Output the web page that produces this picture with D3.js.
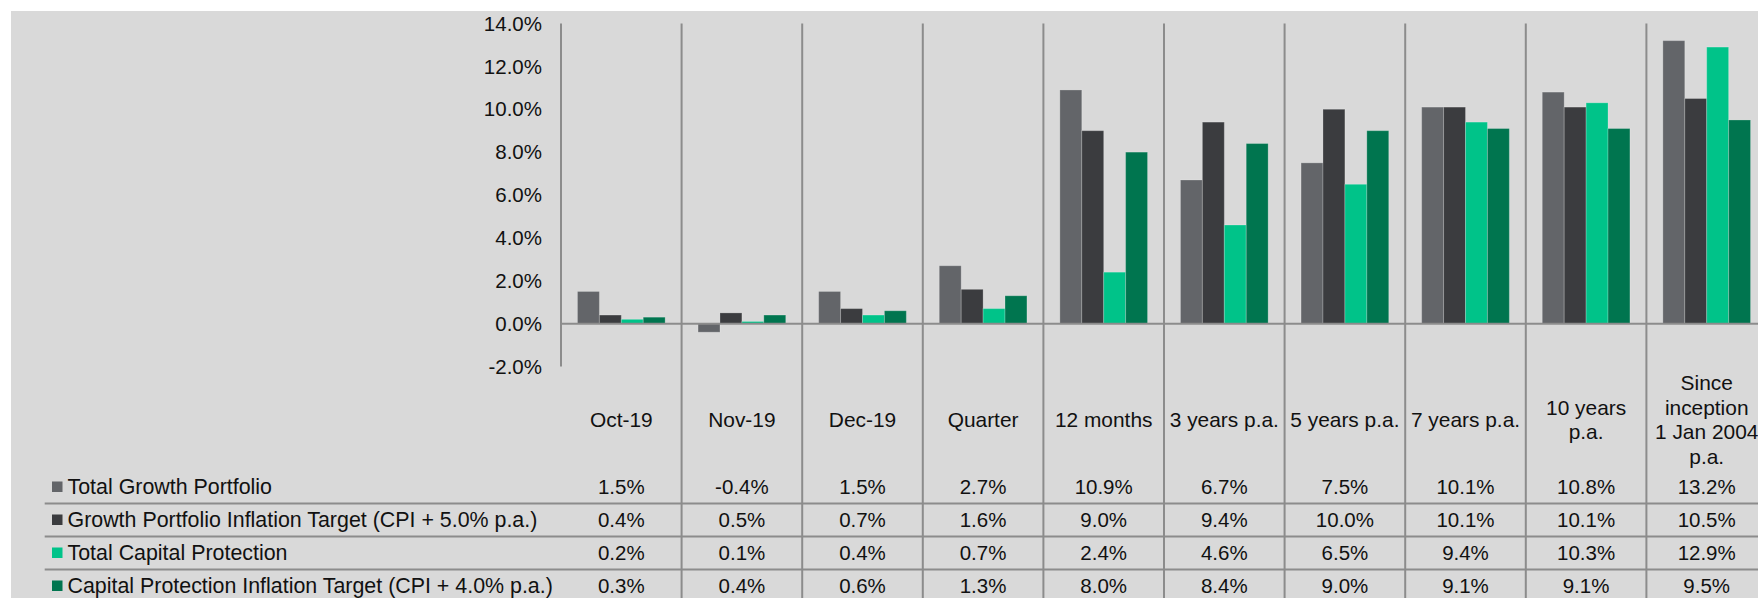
<!DOCTYPE html>
<html>
<head>
<meta charset="utf-8">
<script src="https://cdn.jsdelivr.net/npm/d3@7"></script>
<style>
html, body { margin: 0; padding: 0; background: #fff; overflow: hidden; }
svg { display: block; }
text { font-family: "Liberation Sans", Arial, sans-serif; fill: #111; }
</style>
</head>
<body>
<div id="chart"></div>
<script>
var width = 1758
var height = 598

var categories = [
	["Oct-19"], ["Nov-19"], ["Dec-19"], ["Quarter"], ["12 months"],
	["3 years p.a."], ["5 years p.a."], ["7 years p.a."],
	["10 years", "p.a."], ["Since", "inception", "1 Jan 2004", "p.a."]
]
var seriesNames = [
	"Total Growth Portfolio",
	"Growth Portfolio Inflation Target (CPI + 5.0% p.a.)",
	"Total Capital Protection",
	"Capital Protection Inflation Target (CPI + 4.0% p.a.)"
]
var totalGrowth = [1.5, -0.4, 1.5, 2.7, 10.9, 6.7, 7.5, 10.1, 10.8, 13.2]
var growthTarget = [0.4, 0.5, 0.7, 1.6, 9.0, 9.4, 10.0, 10.1, 10.1, 10.5]
var totalCapital = [0.2, 0.1, 0.4, 0.7, 2.4, 4.6, 6.5, 9.4, 10.3, 12.9]
var capitalTarget = [0.3, 0.4, 0.6, 1.3, 8.0, 8.4, 9.0, 9.1, 9.1, 9.5]
var yTicks = [-2, 0, 2, 4, 6, 8, 10, 12, 14]

var colors = ["#636569", "#3b3c3f", "#00c389", "#00754f"]
var lineColor = "#8c8c8c"

var series = [totalGrowth, growthTarget, totalCapital, capitalTarget]
var catKeys = categories.map(function(c){ return c.join(" ") })

var svg = d3.select("#chart").append("svg")
	.attr("width", width)
	.attr("height", height)

svg.append("rect")
	.attr("x", 11).attr("y", 11)
	.attr("width", width - 11).attr("height", height - 11)
	.attr("fill", "#d9d9d9")

var x0 = d3.scaleBand()
	.domain(catKeys)
	.range([561, 561 + 10 * 120.6])
	.paddingInner(0.273)
	.paddingOuter(0.1365)
var x1 = d3.scaleBand()
	.domain(d3.range(4))
	.range([0, x0.bandwidth()])
var y = d3.scaleLinear()
	.domain([-2, 14])
	.range([366.5, 23.5])

var step = x0.step()
// boundary between category i-1 and i
var edge = function(i){ return x0.range()[0] + i * step }

// pct with plain hyphen
var fmt = d3.formatLocale({decimal: ".", thousands: ",", grouping: [3], currency: ["", ""], minus: "-"}).format(".1f")
function pct(v){ return fmt(v) + "%" }

// y axis labels
svg.append("g").selectAll("text")
	.data(yTicks).enter()
	.append("text")
	  .attr("x", 542)
	  .attr("y", function(d){ return y(d) })
	  .attr("dy", "0.35em")
	  .attr("text-anchor", "end")
	  .style("font-size", "20.5px")
	  .text(pct)

// bars
var groups = svg.append("g").selectAll("g")
	.data(catKeys).enter()
	.append("g")
	  .attr("transform", function(d){ return "translate(" + x0(d) + ",0)" })
groups.selectAll("rect")
	.data(function(d, i){ return series.map(function(s, k){ return {k: k, v: s[i]} }) })
	.enter().append("rect")
	  .attr("x", function(d){ return x1(d.k) })
	  .attr("width", x1.bandwidth())
	  .attr("y", function(d){ return y(Math.max(0, d.v)) })
	  .attr("height", function(d){ return Math.abs(y(d.v) - y(0)) })
	  .attr("fill", function(d){ return colors[d.k] })
	  .attr("stroke", "rgba(255,255,255,0.22)")
	  .attr("stroke-width", 1)

// y axis line and zero line
svg.append("line")
	.attr("x1", 561).attr("x2", 561)
	.attr("y1", y(14)).attr("y2", y(-2))
	.attr("stroke", lineColor).attr("stroke-width", 2)
svg.append("line")
	.attr("x1", 561).attr("x2", width)
	.attr("y1", y(0)).attr("y2", y(0))
	.attr("stroke", lineColor).attr("stroke-width", 2)

// category separators, running down through the table
svg.append("g").selectAll("line")
	.data(d3.range(1, 11)).enter()
	.append("line")
	  .attr("x1", edge).attr("x2", edge)
	  .attr("y1", y(14)).attr("y2", height)
	  .attr("stroke", lineColor).attr("stroke-width", 2)

// category labels
var lh = 24.6
svg.append("g").selectAll("text")
	.data(categories).enter()
	.append("text")
	  .attr("x", function(d, i){ return x0(catKeys[i]) + x0.bandwidth() / 2 })
	  .attr("text-anchor", "middle")
	  .style("font-size", "20.9px")
	  .each(function(d){
		var t = d3.select(this)
		var top = 419.5 - (d.length - 1) * lh / 2
		d.forEach(function(line, j){
			t.append("tspan")
			  .attr("x", t.attr("x"))
			  .attr("y", top + j * lh)
			  .attr("dy", "0.35em")
			  .text(line)
		})
	  })

// table
var rowY = function(r){ return 487 + r * 33 }
svg.append("g").selectAll("line")
	.data([1, 2, 3]).enter()
	.append("line")
	  .attr("x1", 44.7).attr("x2", width)
	  .attr("y1", function(r){ return rowY(r) - 16.5 })
	  .attr("y2", function(r){ return rowY(r) - 16.5 })
	  .attr("stroke", lineColor).attr("stroke-width", 2)

var rows = svg.append("g").selectAll("g")
	.data(series).enter()
	.append("g")
rows.append("rect")
	.attr("x", 52).attr("width", 10.5)
	.attr("y", function(d, r){ return rowY(r) - 5.5 }).attr("height", 10.5)
	.attr("fill", function(d, r){ return colors[r] })
rows.append("text")
	.attr("x", 67.5)
	.attr("y", function(d, r){ return rowY(r) })
	.attr("dy", "0.35em")
	.style("font-size", "21.4px")
	.text(function(d, r){ return seriesNames[r] })
rows.each(function(s, r){
	d3.select(this).selectAll("text.val")
	  .data(s).enter()
	  .append("text")
		.classed("val", true)
		.attr("x", function(d, i){ return x0(catKeys[i]) + x0.bandwidth() / 2 })
		.attr("y", rowY(r))
		.attr("dy", "0.35em")
		.attr("text-anchor", "middle")
		.style("font-size", "20.5px")
		.text(pct)
})
</script>
</body>
</html>
